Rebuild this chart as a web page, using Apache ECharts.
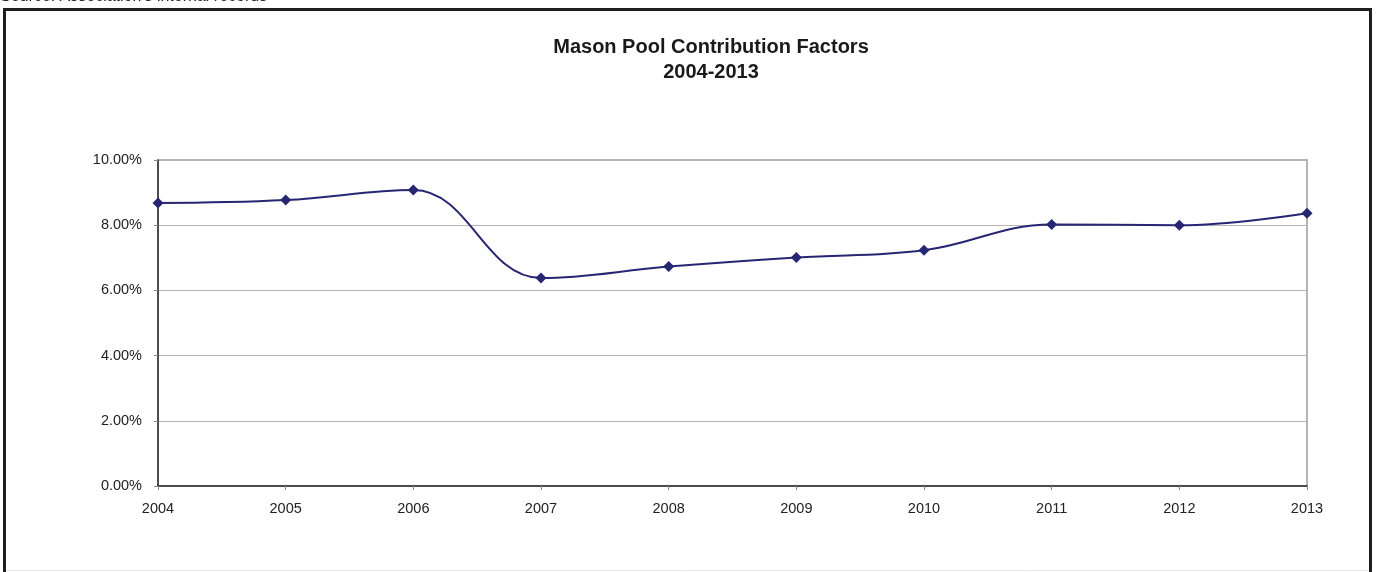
<!DOCTYPE html>
<html>
<head>
<meta charset="utf-8">
<script src="https://cdn.jsdelivr.net/npm/echarts@6/dist/echarts.min.js"></script>
<style>
  html, body { margin: 0; padding: 0; background: #ffffff; }
  #chart { width: 1378px; height: 572px; }
</style>
</head>
<body>
<div id="chart"></div>
<script>
// Contribution factor per year, in percent
const years = ['2004', '2005', '2006', '2007', '2008', '2009', '2010', '2011', '2012', '2013'];
const factors = [8.68, 8.77, 9.08, 6.38, 6.73, 7.01, 7.23, 8.02, 8.00, 8.37];
const titleLines = ['Mason Pool Contribution Factors', '2004-2013'];
const sourceNote = "Source: Association's internal records";

const chart = echarts.init(document.getElementById('chart'), null, { renderer: 'canvas' });

chart.setOption({
  animation: false,
  backgroundColor: '#ffffff',
  title: {
    text: titleLines.join('\n'),
    left: 706,
    textAlign: 'center',
    top: 30,
    textStyle: {
      fontFamily: 'Liberation Sans',
      fontWeight: 'bold',
      fontSize: 20,
      lineHeight: 25,
      color: '#1a1a1a'
    }
  },
  graphic: [
    {
      type: 'text',
      left: 0,
      top: -11,
      style: { text: sourceNote, font: '16px "Liberation Sans"', fill: '#222' }
    },
    // outer frame of the chart sheet
    {
      type: 'polyline',
      shape: { points: [[4.5, 580], [4.5, 9.5], [1370.5, 9.5], [1370.5, 580]] },
      style: { stroke: '#1e1e1e', lineWidth: 3, fill: null }
    },
    {
      type: 'line',
      shape: { x1: 6, y1: 570.5, x2: 1369, y2: 570.5 },
      style: { stroke: '#e6e6e6', lineWidth: 1 }
    }
  ],
  grid: {
    left: 158,
    right: 71,
    top: 160,
    bottom: 86,
    show: true,
    borderColor: '#9a9a9a',
    borderWidth: 1.5,
    backgroundColor: 'transparent'
  },
  xAxis: {
    type: 'category',
    data: years,
    boundaryGap: false,
    axisLine: { show: true, lineStyle: { color: '#2b2b2b', width: 1.5 } },
    axisTick: { show: true, length: 4, inside: false, alignWithLabel: true, lineStyle: { color: '#888' } },
    axisLabel: {
      fontFamily: 'Liberation Sans',
      fontSize: 14.5,
      color: '#222',
      margin: 15
    },
    splitLine: { show: false }
  },
  yAxis: {
    type: 'value',
    min: 0,
    max: 10,
    interval: 2,
    axisLine: { show: true, lineStyle: { color: '#2b2b2b', width: 1.5 } },
    axisTick: { show: true, length: 4, lineStyle: { color: '#888' } },
    axisLabel: {
      fontFamily: 'Liberation Sans',
      fontSize: 14.5,
      color: '#222',
      margin: 16,
      formatter: v => v.toFixed(2) + '%'
    },
    splitLine: { show: true, lineStyle: { color: '#b3b3b3', width: 1 } }
  },
  series: [
    {
      type: 'line',
      data: factors,
      smooth: 0.4,
      symbol: 'diamond',
      symbolSize: 11,
      lineStyle: { color: '#262673', width: 2 },
      itemStyle: { color: '#262673' },
      z: 5
    }
  ]
});
</script>
</body>
</html>
